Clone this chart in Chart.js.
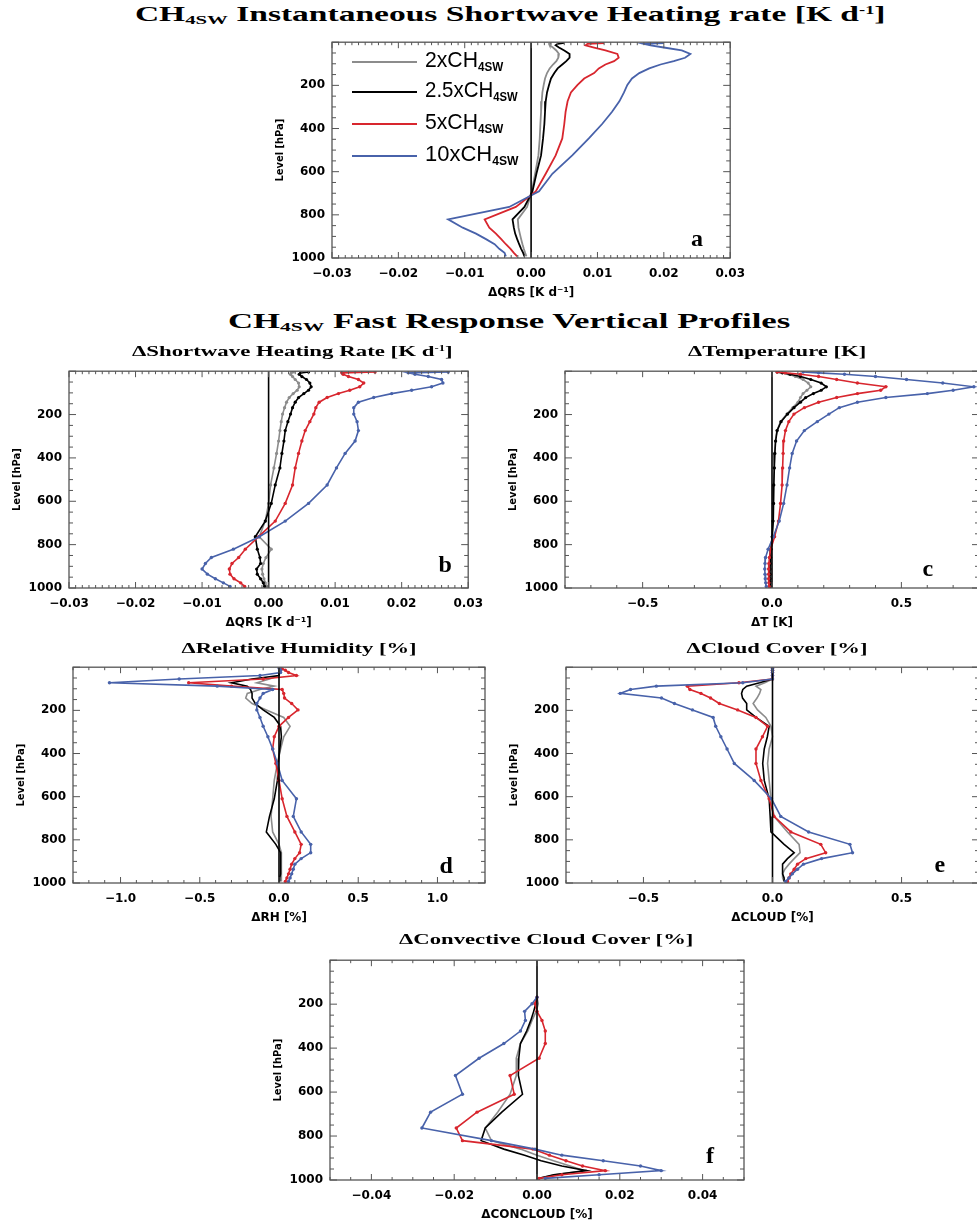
<!DOCTYPE html>
<html>
<head>
<meta charset="utf-8">
<script src="https://cdn.jsdelivr.net/npm/chart.js@4.4.1/dist/chart.umd.min.js"></script>
<style>
  body { margin: 0; background: #fff; width: 977px; height: 1224px; overflow: hidden; position: relative; }
  canvas { position: absolute; }
  .t { position: absolute; white-space: nowrap; line-height: 1; font-family: "Liberation Serif", "DejaVu Serif", serif; font-weight: bold; color: #000; transform-origin: center center; }
  .t sub { font-size: 0.62em; vertical-align: -0.22em; }
  .t sup { font-size: 0.55em; vertical-align: 0.65em; }
  .lg { font-family: "Liberation Sans", Arial, sans-serif; font-weight: normal; transform-origin: left center; }
  .lg sub { font-size: 0.55em; font-weight: bold; vertical-align: -0.3em; }
  .ln { position: absolute; height: 2px; }
</style>
</head>
<body>
<script>
"use strict";

// 気圧レベル (hPa)
const levels = [3.6, 7.6, 14.4, 24.6, 38.3, 54.6, 72.0, 87.8, 103.3, 121.5, 143.0, 168.2, 197.9, 232.8, 273.9,
  322.2, 379.1, 446.0, 524.7, 609.8, 691.4, 763.4, 820.9, 859.5, 887.0, 912.6, 936.2, 957.5, 976.3, 992.6];
const yTicks = [200, 400, 600, 800, 1000];
const seriesNames = ['2xCH', '2.5xCH', '5xCH', '10xCH'];

// a: 瞬時短波加熱率
const aGray = [0.0030, 0.0027, 0.0028, 0.0033, 0.0038, 0.0042, 0.0041, 0.0038, 0.0033, 0.0028, 0.0024, 0.0021, 0.0019, 0.0017, 0.0016,
  0.0015, 0.0014, 0.0013, 0.0011, 0.0006, 0.0001, -0.0006, -0.0020, -0.0019, -0.0017, -0.0015, -0.0013, -0.0011, -0.0009, -0.0007];
const aBlack = [0.0050, 0.0040, 0.0037, 0.0042, 0.0050, 0.0058, 0.0058, 0.0053, 0.0047, 0.0040, 0.0035, 0.0030, 0.0027, 0.0024, 0.0022,
  0.0021, 0.0020, 0.0018, 0.0015, 0.0008, 0.0002, -0.0010, -0.0028, -0.0026, -0.0024, -0.0021, -0.0018, -0.0015, -0.0012, -0.0010];
const aRed = [0.0110, 0.0085, 0.0082, 0.0095, 0.0112, 0.0130, 0.0132, 0.0125, 0.0112, 0.0102, 0.0095, 0.0080, 0.0070, 0.0060, 0.0055,
  0.0052, 0.0050, 0.0047, 0.0037, 0.0022, 0.0007, -0.0023, -0.0070, -0.0063, -0.0053, -0.0045, -0.0038, -0.0031, -0.0026, -0.0021];
const aBlue = [0.0200, 0.0170, 0.0180, 0.0200, 0.0227, 0.0240, 0.0232, 0.0215, 0.0195, 0.0178, 0.0163, 0.0152, 0.0145, 0.0140, 0.0133,
  0.0122, 0.0107, 0.0087, 0.0062, 0.0032, 0.0012, -0.0033, -0.0125, -0.0103, -0.0083, -0.0068, -0.0055, -0.0048, -0.0040, -0.0038];

// b: 短波加熱率 (fast response)
const bGray = [0.0037, 0.0034, 0.0033, 0.0036, 0.0040, 0.0045, 0.0046, 0.0043, 0.0037, 0.0031, 0.0027, 0.0024, 0.0021, 0.0019, 0.0017,
  0.0015, 0.0012, 0.0008, 0.0003, 0.0000, -0.0005, -0.0014, 0.0004, -0.0004, -0.0008, -0.0010, -0.0009, -0.0007, -0.0005, -0.0003];
const bBlack = [0.0060, 0.0048, 0.0046, 0.0050, 0.0057, 0.0062, 0.0064, 0.0060, 0.0053, 0.0045, 0.0040, 0.0036, 0.0033, 0.0029, 0.0025,
  0.0023, 0.0020, 0.0017, 0.0010, 0.0004, -0.0005, -0.0020, -0.0017, -0.0013, -0.0012, -0.0018, -0.0017, -0.0012, -0.0008, -0.0006];
const bRed = [0.0160, 0.0110, 0.0112, 0.0120, 0.0135, 0.0143, 0.0137, 0.0122, 0.0105, 0.0088, 0.0076, 0.0071, 0.0068, 0.0062, 0.0055,
  0.0050, 0.0045, 0.0040, 0.0036, 0.0025, 0.0010, -0.0015, -0.0035, -0.0045, -0.0055, -0.0059, -0.0058, -0.0052, -0.0042, -0.0036];
const bBlue = [0.0270, 0.0210, 0.0220, 0.0240, 0.0260, 0.0262, 0.0245, 0.0215, 0.0185, 0.0158, 0.0135, 0.0128, 0.0128, 0.0133, 0.0135,
  0.0130, 0.0115, 0.0102, 0.0088, 0.0060, 0.0025, -0.0014, -0.0053, -0.0086, -0.0095, -0.0100, -0.0092, -0.0080, -0.0068, -0.0058];

// c: 気温
const cGray = [0.02, 0.04, 0.065, 0.09, 0.12, 0.14, 0.15, 0.135, 0.12, 0.11, 0.10, 0.08, 0.057, 0.033, 0.019,
  0.013, 0.010, 0.008, 0.006, 0.005, 0.003, 0.0, -0.004, -0.005, -0.006, -0.007, -0.007, -0.007, -0.006, -0.005];
const cBlack = [0.02, 0.04, 0.07, 0.11, 0.15, 0.19, 0.21, 0.19, 0.16, 0.13, 0.11, 0.085, 0.06, 0.035, 0.02,
  0.014, 0.011, 0.009, 0.007, 0.006, 0.004, 0.001, -0.004, -0.006, -0.007, -0.008, -0.008, -0.008, -0.007, -0.006];
const cRed = [0.02, 0.05, 0.11, 0.18, 0.25, 0.33, 0.44, 0.42, 0.33, 0.25, 0.18, 0.125, 0.085, 0.065, 0.052,
  0.045, 0.043, 0.041, 0.039, 0.033, 0.025, 0.010, -0.005, -0.010, -0.012, -0.013, -0.013, -0.013, -0.012, -0.011];
const cBlue = [0.12, 0.18, 0.28, 0.40, 0.52, 0.66, 0.78, 0.70, 0.60, 0.44, 0.33, 0.26, 0.22, 0.175, 0.125,
  0.095, 0.078, 0.068, 0.058, 0.045, 0.028, 0.005, -0.015, -0.025, -0.027, -0.028, -0.027, -0.026, -0.024, -0.022];

// d: 相対湿度
const dGray = [0, 0, 0, 0, 0, -0.06, -0.14, -0.03, -0.12, -0.20, -0.21, -0.17, -0.08, 0.03, 0.07,
  0.03, 0.01, -0.01, -0.03, -0.04, -0.05, -0.04, 0.0, 0.015, 0.015, 0.015, 0.015, 0.015, 0.015, 0.015];
const dBlack = [0, 0, 0, 0, 0, -0.17, -0.30, -0.20, -0.18, -0.17, -0.17, -0.15, -0.10, -0.03, 0.01,
  0.015, 0.005, -0.005, -0.01, -0.03, -0.06, -0.08, -0.02, 0.01, 0.01, 0.01, 0.01, 0.01, 0.005, 0.005];
const dRed = [0.01, 0.02, 0.04, 0.06, 0.11, -0.10, -0.57, -0.30, 0.02, 0.03, 0.035, 0.08, 0.12, 0.06, 0.0,
  -0.03, -0.04, -0.02, 0.0, 0.02, 0.05, 0.10, 0.14, 0.13, 0.10, 0.08, 0.07, 0.06, 0.05, 0.04];
const dBlue = [0.0, 0.005, 0.01, 0.01, -0.12, -0.63, -1.07, -0.39, -0.04, -0.10, -0.12, -0.14, -0.14, -0.12, -0.10,
  -0.07, -0.04, -0.01, 0.02, 0.11, 0.09, 0.14, 0.20, 0.20, 0.14, 0.10, 0.09, 0.08, 0.07, 0.06];

// e: 雲量
const eGray = [0, 0, 0, 0, 0, 0, -0.03, -0.064, -0.045, -0.05, -0.06, -0.075, -0.058, -0.026, -0.006,
  0.0, -0.013, -0.019, -0.013, -0.006, 0.006, 0.058, 0.103, 0.107, 0.084, 0.064, 0.048, 0.039, 0.039, 0.045];
const eBlack = [0, 0, 0, 0, 0, 0, -0.05, -0.10, -0.115, -0.12, -0.116, -0.10, -0.10, -0.064, -0.013,
  -0.02, -0.032, -0.038, -0.032, -0.013, -0.009, -0.006, 0.045, 0.084, 0.058, 0.039, 0.039, 0.039, 0.045, 0.045];
const eRed = [0, 0, 0, 0, 0, 0, -0.13, -0.33, -0.32, -0.277, -0.24, -0.206, -0.135, -0.064, -0.019,
  -0.039, -0.064, -0.064, -0.045, -0.013, 0.006, 0.071, 0.187, 0.206, 0.129, 0.097, 0.084, 0.071, 0.064, 0.058];
const eBlue = [0, 0, 0, 0, 0, 0, -0.115, -0.45, -0.55, -0.59, -0.43, -0.38, -0.31, -0.23, -0.22,
  -0.20, -0.176, -0.148, -0.071, -0.004, 0.032, 0.14, 0.30, 0.31, 0.19, 0.12, 0.097, 0.077, 0.064, 0.051];

// f: 対流雲量 (上層はデータなし)
const fGray = [null, null, null, null, null, null, null, null, null, null, null, 0.0, 0.0003, -0.0002, -0.0012,
  -0.0022, -0.0040, -0.0050, -0.0050, -0.0065, -0.0095, -0.0125, -0.0110, -0.0040, 0.0000, 0.0040, 0.0080, 0.0115, 0.0045, 0.0005];
const fBlack = [null, null, null, null, null, null, null, null, null, null, null, 0.0, -0.0003, -0.0008, -0.0015,
  -0.0025, -0.0040, -0.0044, -0.0045, -0.0035, -0.0085, -0.0125, -0.0135, -0.0080, -0.0030, 0.0010, 0.0060, 0.0120, 0.0040, 0.0005];
const fRed = [null, null, null, null, null, null, null, null, null, null, null, 0.0, -0.0005, 0.0, 0.0012,
  0.0020, 0.0020, 0.0005, -0.0065, -0.0055, -0.0145, -0.0195, -0.0180, -0.0010, 0.0030, 0.0070, 0.0110, 0.0165, 0.0060, 0.0005];
const fBlue = [null, null, null, null, null, null, null, null, null, null, null, 0.0, -0.0012, -0.0030, -0.0028,
  -0.0040, -0.0080, -0.0140, -0.0197, -0.0180, -0.0257, -0.0278, -0.0110, -0.0005, 0.0060, 0.0160, 0.0250, 0.0300, 0.0150, 0.0020];

// 色
const GRAY = '#8c8c8c', BLACK = '#000000', RED = '#d8262e', BLUE = '#4862aa';
const tickFont = { family: 'DejaVu Sans', weight: 'bold', size: 12 };
const titleFont = { family: 'DejaVu Sans', weight: 'bold', size: 12 };

// 枠と内向きの目盛りを描くプラグイン
const boxPlugin = {
  id: 'box',
  afterDatasetsDraw(chart, args, o) {
    const ctx = chart.ctx, a = chart.chartArea;
    const xs = chart.scales.x, ys = chart.scales.y;
    ctx.save();
    ctx.strokeStyle = '#555';
    ctx.lineWidth = 1.3;
    ctx.strokeRect(a.left, a.top, a.right - a.left, a.bottom - a.top);
    ctx.lineWidth = 1;
    ctx.beginPath();
    const nx = Math.round((xs.max - xs.min) / o.xMinor);
    for (let i = 0; i <= nx; i++) {
      const v = xs.min + i * o.xMinor;
      const q = v / o.xMajor;
      const len = Math.abs(q - Math.round(q)) < 1e-6 ? 6 : 3;
      const px = xs.getPixelForValue(v);
      ctx.moveTo(px, a.bottom); ctx.lineTo(px, a.bottom - len);
      ctx.moveTo(px, a.top); ctx.lineTo(px, a.top + len);
    }
    for (let v = 0; v <= 1000; v += 50) {
      const len = v % 200 === 0 ? 7 : 4;
      const py = ys.getPixelForValue(v);
      ctx.moveTo(a.left, py); ctx.lineTo(a.left + len, py);
      ctx.moveTo(a.right, py); ctx.lineTo(a.right - len, py);
    }
    ctx.stroke();
    ctx.restore();
  }
};

function fmt(v, dec) {
  const s = Math.abs(v).toFixed(dec);
  return (v < -1e-9 ? '\u2212' : '') + s;
}

const YW = 60, XH = 42, PT = 8, PR = 22;

function panel(box, xMin, xMax, xTicks, xMinor, xMajor, dec, xTitle, gray, black, red, blue, marks, lw) {
  const [l, t, r, b] = box;
  const cv = document.createElement('canvas');
  cv.width = YW + (r - l) + PR;
  cv.height = PT + (b - t) + XH;
  cv.style.left = (l - YW) + 'px';
  cv.style.top = (t - PT) + 'px';
  document.body.appendChild(cv);

  const pts = vals => levels.map((p, i) => vals[i] == null ? null : { x: vals[i], y: p }).filter(Boolean);
  const ds = (vals, col, rad) => ({
    data: pts(vals), borderColor: col, backgroundColor: col, borderWidth: lw,
    pointRadius: rad, pointBorderWidth: 0, showLine: true, tension: 0
  });
  const datasets = [
    { data: [{ x: 0, y: 0 }, { x: 0, y: 1000 }], borderColor: '#000', borderWidth: 1.6, pointRadius: 0, showLine: true },
    ds(blue, BLUE, marks[3]),
    ds(red, RED, marks[2]),
    ds(black, BLACK, marks[1]),
    ds(gray, GRAY, marks[0])
  ];

  new Chart(cv.getContext('2d'), {
    type: 'scatter',
    data: { datasets: datasets },
    plugins: [boxPlugin],
    options: {
      responsive: false,
      animation: false,
      events: [],
      layout: { padding: { top: PT, right: PR, left: 0, bottom: 0 } },
      plugins: {
        legend: { display: false },
        tooltip: { enabled: false },
        box: { xMinor: xMinor, xMajor: xMajor }
      },
      scales: {
        x: {
          type: 'linear', min: xMin, max: xMax,
          grid: { display: false, drawTicks: false },
          border: { display: false },
          afterBuildTicks: s => { s.ticks = xTicks.map(v => ({ value: v })); },
          afterFit: s => { s.height = XH; },
          ticks: { padding: 9, color: '#000', font: tickFont, maxRotation: 0, autoSkip: false, callback: v => fmt(v, dec) },
          title: { display: true, text: xTitle, color: '#000', font: titleFont, padding: { top: 1, bottom: 0 } }
        },
        y: {
          type: 'linear', reverse: true, min: 0, max: 1000,
          grid: { display: false, drawTicks: false },
          border: { display: false },
          afterBuildTicks: s => { s.ticks = yTicks.map(v => ({ value: v })); },
          afterFit: s => { s.width = YW; },
          ticks: { padding: 7, color: '#000', font: tickFont, autoSkip: false, callback: v => String(v) },
          title: { display: true, text: 'Level [hPa]', color: '#000', font: { family: 'DejaVu Sans Condensed, DejaVu Sans', weight: 'bold', size: 11 }, padding: { top: 2, bottom: 0 } }
        }
      }
    }
  });
}

const qrsTicks = [-0.03, -0.02, -0.01, 0, 0.01, 0.02, 0.03];
const kTicks = [-0.5, 0, 0.5];
const rhTicks = [-1.0, -0.5, 0, 0.5, 1.0];
const ccTicks = [-0.04, -0.02, 0, 0.02, 0.04];

panel([332, 36, 732, 258], -0.03, 0.03, qrsTicks, 0.001, 0.01, 2, 'ΔQRS [K d⁻¹]', aGray, aBlack, aRed, aBlue, [0, 0, 0, 0], 1.8);
panel([69, 365, 470, 588], -0.03, 0.03, qrsTicks, 0.001, 0.01, 2, 'ΔQRS [K d⁻¹]', bGray, bBlack, bRed, bBlue, [1.6, 1.6, 1.7, 1.7], 1.6);
panel([565, 365, 979, 588], -0.8, 0.8, kTicks, 0.1, 0.5, 1, 'ΔT [K]', cGray, cBlack, cRed, cBlue, [1.5, 1.6, 1.7, 1.7], 1.6);
panel([73, 661, 485, 883], -1.3, 1.3, rhTicks, 0.1, 0.5, 1, 'ΔRH [%]', dGray, dBlack, dRed, dBlue, [0, 0, 1.7, 1.7], 1.6);
panel([566, 661, 979, 883], -0.8, 0.8, kTicks, 0.1, 0.5, 1, 'ΔCLOUD [%]', eGray, eBlack, eRed, eBlue, [0, 0, 1.7, 1.7], 1.6);
panel([330, 954, 744, 1180], -0.05, 0.05, ccTicks, 0.005, 0.02, 2, 'ΔCONCLOUD [%]', fGray, fBlack, fRed, fBlue, [0, 0, 1.7, 1.7], 1.6);

// タイトル類 (中心座標, 文字サイズ, 目標幅)
const texts = [
  { h: 'CH<sub>4SW</sub> Instantaneous Shortwave Heating rate [K d<sup>-1</sup>]', x: 510, y: 15, s: 21, w: 750 },
  { h: 'CH<sub>4SW</sub> Fast Response Vertical Profiles', x: 509, y: 322, s: 21, w: 562 },
  { h: 'ΔShortwave Heating Rate [K d<sup>-1</sup>]', x: 292, y: 351, s: 15, w: 320 },
  { h: 'ΔTemperature [K]', x: 777, y: 351, s: 15, w: 178 },
  { h: 'ΔRelative Humidity [%]', x: 299, y: 648, s: 15, w: 235 },
  { h: 'ΔCloud Cover [%]', x: 777, y: 648, s: 15, w: 181 },
  { h: 'ΔConvective Cloud Cover [%]', x: 546, y: 939, s: 15, w: 295 },
  { h: 'a', x: 697, y: 238, s: 24 },
  { h: 'b', x: 445, y: 564, s: 24 },
  { h: 'c', x: 928, y: 568, s: 24 },
  { h: 'd', x: 446, y: 865, s: 24 },
  { h: 'e', x: 940, y: 864, s: 24 },
  { h: 'f', x: 710, y: 1155, s: 24 }
];
texts.forEach(t => {
  const el = document.createElement('div');
  el.className = 't';
  el.innerHTML = t.h;
  el.style.fontSize = t.s + 'px';
  document.body.appendChild(el);
  const w = el.offsetWidth, h = el.offsetHeight;
  el.style.left = (t.x - w / 2) + 'px';
  el.style.top = (t.y - h / 2) + 'px';
  if (t.w) el.style.transform = 'scaleX(' + (t.w / w) + ')';
});

// パネルaの凡例
const legendRows = [
  { c: GRAY, y: 62, w: 78 },
  { c: BLACK, y: 92, w: 93 },
  { c: RED, y: 124, w: 78 },
  { c: BLUE, y: 156, w: 93 }
];
legendRows.forEach((row, i) => {
  const ln = document.createElement('div');
  ln.className = 'ln';
  ln.style.left = '352px';
  ln.style.width = '65px';
  ln.style.top = (row.y - 1) + 'px';
  ln.style.background = row.c;
  document.body.appendChild(ln);
  const el = document.createElement('div');
  el.className = 't lg';
  el.innerHTML = seriesNames[i] + '<sub>4SW</sub>';
  el.style.fontSize = '22px';
  document.body.appendChild(el);
  const w = el.offsetWidth, h = el.offsetHeight;
  el.style.left = '425px';
  el.style.top = (row.y - h / 2 - 1) + 'px';
  el.style.transform = 'scaleX(' + (row.w / w) + ')';
});
</script>
</body>
</html>
